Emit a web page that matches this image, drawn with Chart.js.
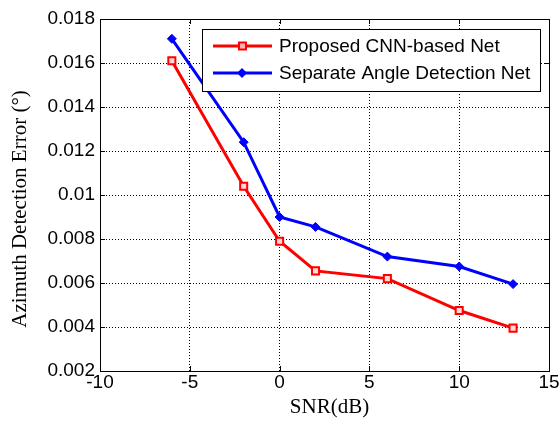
<!DOCTYPE html>
<html><head><meta charset="utf-8">
<script src="https://cdn.jsdelivr.net/npm/chart.js@4/dist/chart.umd.min.js"></script>
<style>html,body{margin:0;padding:0;background:#fff;}#wrap{width:560px;height:429px;}</style>
</head><body><div id="wrap"><canvas id="c" width="560" height="429"></canvas></div>
<script>
const snr = [-6, -2, 0, 2, 6, 10, 13];
const proposed = [0.0161, 0.0104, 0.0079, 0.00655, 0.0062, 0.00475, 0.00395];
const separate = [0.0171, 0.0124, 0.0090, 0.00855, 0.0072, 0.00675, 0.00595];
const seriesNames = ['Proposed CNN-based Net', 'Separate Angle Detection Net'];
const xTitle = 'SNR(dB)';
const yTitle = 'Azimuth Detection Error (°)';

const boxPlugin = {
  id: 'box',
  afterDraw(chart) {
    const {ctx, chartArea: a, scales} = chart;
    ctx.save();
    ctx.strokeStyle = '#000'; ctx.lineWidth = 1;
    ctx.strokeRect(a.left + 0.5, a.top + 0.5, a.right - a.left, a.bottom - a.top);
    ctx.beginPath();
    scales.x.ticks.forEach(t => {
      const px = Math.round(scales.x.getPixelForValue(t.value)) + 0.5;
      ctx.moveTo(px, a.bottom); ctx.lineTo(px, a.bottom - 5);
      ctx.moveTo(px, a.top); ctx.lineTo(px, a.top + 5);
    });
    scales.y.ticks.forEach(t => {
      const py = Math.round(scales.y.getPixelForValue(t.value)) + 0.5;
      ctx.moveTo(a.left, py); ctx.lineTo(a.left + 5, py);
      ctx.moveTo(a.right, py); ctx.lineTo(a.right - 5, py);
    });
    ctx.stroke();
    // axis titles
    ctx.fillStyle = '#000';
    ctx.font = '21px "Liberation Serif", "Times New Roman", serif';
    ctx.textAlign = 'center'; ctx.textBaseline = 'middle';
    ctx.fillText(xTitle, 329.5, 407);
    ctx.save();
    ctx.translate(20, 209);
    ctx.rotate(-Math.PI / 2);
    ctx.fillText(yTitle, 0, 0);
    ctx.restore();
    // legend
    ctx.textAlign = 'left';
    const lx = 202, ly = 29, lw = 338, lh = 62;
    ctx.fillStyle = '#fff';
    ctx.fillRect(lx, ly, lw, lh);
    ctx.strokeRect(lx + 0.5, ly + 0.5, lw, lh);
    ctx.font = '19px "Liberation Sans", Arial, sans-serif';
    chart.data.datasets.forEach((ds, i) => {
      const y = ly + 17 + i * 27;
      ctx.strokeStyle = ds.borderColor; ctx.lineWidth = 3;
      ctx.beginPath(); ctx.moveTo(213, y); ctx.lineTo(272, y); ctx.stroke();
      ctx.lineWidth = 2;
      if (i === 0) {
        ctx.fillStyle = '#ffb0b0';
        ctx.fillRect(239, y - 3.5, 7, 7);
        ctx.strokeRect(239, y - 3.5, 7, 7);
      } else {
        ctx.fillStyle = ds.borderColor;
        ctx.beginPath();
        ctx.moveTo(242, y - 5); ctx.lineTo(247, y); ctx.lineTo(242, y + 5); ctx.lineTo(237, y);
        ctx.closePath(); ctx.fill();
      }
      ctx.fillStyle = '#000';
      ctx.fillText(ds.label, 279, y + 1);
    });
    ctx.restore();
  }
};

new Chart(document.getElementById('c'), {
  type: 'line',
  data: {
    datasets: [
      {
        label: seriesNames[0],
        data: snr.map((x, i) => ({x, y: proposed[i]})),
        borderColor: '#ff0000', backgroundColor: '#ffd0d0',
        borderWidth: 3, pointStyle: 'rect', pointRadius: 5,
        pointBorderWidth: 2, pointBorderColor: '#ff0000', pointBackgroundColor: '#ffd8d8',
        tension: 0
      },
      {
        label: seriesNames[1],
        data: snr.map((x, i) => ({x, y: separate[i]})),
        borderColor: '#0000ff', backgroundColor: '#0000ff',
        borderWidth: 3, pointStyle: 'rectRot', pointRadius: 4.5,
        pointBorderWidth: 1, pointBorderColor: '#0000ff', pointBackgroundColor: '#0000ff',
        tension: 0
      }
    ]
  },
  options: {
    responsive: false, animation: false, devicePixelRatio: 1,
    layout: {padding: {left: 0, right: 11, top: 19, bottom: 0}},
    plugins: {legend: {display: false}, tooltip: {enabled: false}},
    scales: {
      x: {
        type: 'linear', min: -10, max: 15,
        ticks: {stepSize: 5, color: '#000', font: {family: '"Liberation Sans", Arial', size: 19}, padding: 0, maxRotation: 0},
        grid: {color: '#000', lineWidth: 1, drawTicks: false},
        border: {display: false, dash: [1, 2]},
        title: {display: false, text: xTitle},
        afterFit(s) { s.height = 58; }
      },
      y: {
        min: 0.002, max: 0.018,
        ticks: {stepSize: 0.002, color: '#000', font: {family: '"Liberation Sans", Arial', size: 19}, padding: 5,
          callback: v => String(parseFloat(v.toFixed(3)))},
        grid: {color: '#000', lineWidth: 1, drawTicks: false},
        border: {display: false, dash: [1, 2]},
        title: {display: false, text: yTitle},
        afterFit(s) { s.width = 100; }
      }
    }
  },
  plugins: [boxPlugin]
});
</script></body></html>
